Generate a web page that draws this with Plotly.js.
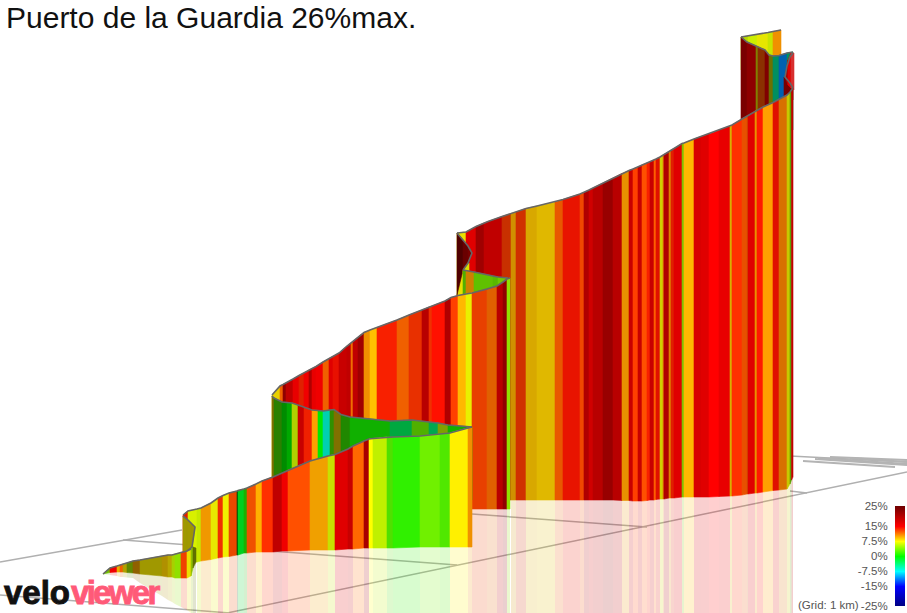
<!DOCTYPE html>
<html><head><meta charset="utf-8">
<script src="https://cdn.plot.ly/plotly-3.0.1.min.js"></script>
<style>
html,body{margin:0;padding:0;background:#fff}
text[data-unformatted="velo"]{letter-spacing:0;stroke:#111;stroke-width:.9px}
text[data-unformatted="viewer"]{letter-spacing:-2.7px;stroke:#ff5a78;stroke-width:.9px}
</style></head><body><div id="chart" style="width:907px;height:613px"></div>
<script>
const chartTitle = "Puerto de la Guardia 26%max.";
// strips of the ribbon, back to front: edge positions, ridge height, foot height, gradient colour
const gX=[741,748,757,768,773,781];
const gTop=[37,36,34.5,32.5,31.5,30];
const gBot=[70,70,70,70,70,70];
const gCol=["#b5d800","#ccee00","#e6e600","#c8e400","#f09000"];

const fX=[741,747,756,758,765,769,773,779,787,793];
const fTop=[37,42,46,47,50,55,56,55.5,53,52];
const fBot=[130,130,130,130,130,130,130,130,130,130];
const fCol=["#7a0000","#8e0000","#808000","#8b3000","#800000","#6b7000","#008f60","#0060b0","#009060"];

const f2X=[784,787,793];
const f2Top=[77,82,88];
const f2Bot=[100,100,100];
const f2Col=["#7a0000","#7a0000"];

const sX=[785,788,791,794];
const sTop=[77,60,53,53];
const sBot=[77,85,88,90];
const sCol=["#b00000","#e00000","#d83030"];

const eX=[457,466,476,484,488,502,511,516,526,537,555,563,580,584,589,593,603,613,622,629,633,638,642,647,650,654,656,660,663,664,669,671,674,682,684,694,701,709,719,730,732,742,747,748,755,757,763,773,779,787,790,791.5,793];
const eTop=[233,232,226.5,223,221.5,216.5,213.5,212,208.5,206,202,199.5,194,192.5,190,188,183,178,173.5,170.5,169,167,165,163,162,160,159,157,155,154.5,151.5,150,148.5,143.5,143,139,136.5,134,130,126,125,119,116,115.5,111,110,107,102.5,99.5,95,92,90,88];
const eBot=[500,500,500,500,500,500,500,500,500,500,500,500,500,500,500,500,500,500,500.5,500.5,501,501,501,500.5,500,500,499.5,499,499,499,498,498,498,497,497,497,497,497,496.5,496,496,495,494,494,493,493,492,490.5,490,489,484,480,477];
const eCol=["#e8e000","#e00000","#a00000","#c00000","#c00000","#c83000","#d09000","#d03000","#d8a800","#e0b800","#e85800","#e81400","#f04800","#b00000","#d00000","#b80000","#980000","#b80000","#e89000","#c80000","#ff4000","#c80000","#ff5000","#f82000","#c80000","#ff6000","#e01000","#d0d000","#e07000","#b00000","#e08000","#e02000","#e00000","#80c000","#ffb800","#d80000","#e00000","#ff0000","#e80000","#d8b000","#ff3000","#e85000","#d05000","#e00000","#e89000","#ff1800","#ffa000","#e01000","#d87000","#c8c800","#60a000","#c00000"];

const hX=[457,463,468,472];
const hTop=[233,240,246,253];
const hBot=[295,270,263,253];
const hCol=["#500000","#6a0000","#7a0000"];

const yX=[463,469];
const yTop=[270,263];
const yBot=[273,273];
const yCol=["#d8e000"];

const dX=[463,466,474,493,498,508];
const dTop=[270,270.5,272,276,277,278];
const dBot=[310,310,310,310,310,310];
const dCol=["#50b000","#d08000","#60c000","#58b800","#70c800"];

const cX=[272,280,283,286,293,299,304,309,312,316,323,329,333,339,347,351,353,358,364,370,377,397,409,422,429,432,445,451,458,466,472,487,497,503,507,510];
const cTop=[395,386,384.5,383,379,375.5,373,370,368.5,366.5,362,358.5,356.5,353,346,343,341.5,337,332.5,330,327.5,320,315,310,307,306,301,297.5,295.5,294,293,289,286,282,279,278];
const cBot=[509,509,509,509,509,509,509,509,509,509,509,509,509,509,509,509,509,509,509,509,509,509,509,509,509,509,509,509,509,509,509,509,509,509,509,509];
const cCol=["#e8d000","#f06000","#900000","#c00000","#e80000","#e02000","#f00000","#b00000","#e80000","#f00000","#f06000","#e00000","#e81000","#c80000","#c00000","#f07000","#c00000","#a00000","#f09000","#ffc000","#f82000","#f06000","#e83000","#b80000","#f03000","#ff1000","#b00000","#ff4000","#ffb800","#e8f000","#e84000","#e06000","#b80000","#900000","#90e000"];

const bX=[272,274,282,287,292,298,304,312,318,323,330,334,341,350,390,412,429,438,448,472];
const bTop=[396,398,402,402.5,403,405,407,410,410.5,411,410,409.5,414.5,417,421,420,422,423,425,427];
const bBot=[500,500,500,500,500,500,500,500,500,500,500,500,500,500,500,500,500,500,500,500];
const bCol=["#807000","#2a8000","#008c00","#00a800","#b0d000","#c80000","#f02000","#ffa000","#00e800","#00d0b0","#309000","#807000","#208800","#10b000","#00a840","#50b000","#00a850","#80a000","#10b000"];

const aX=[183,188,197,201,211,218,223,229,237,238,244,247,256,262,273,282,288,310,328,335,348,353,364,369,373,387,393,420,440,450,468,472];
const aTop=[515,511,509,508,503,498,495.5,493,491,490.5,489,488,484,481,477,473,470,461,456,454.5,449,446,441,439,438.5,437,437,436,434,433,428,427];
const aBot=[563,563,562,561,559.5,558,557,556.5,555,555,553,553,552,552,552,551,551,550,550,550,549,549,548,548,548,548,548,547,547,547,547,547];
const aCol=["#e02000","#d8f000","#c8e800","#f09800","#e8e800","#f03000","#f0f000","#e84800","#004000","#00d020","#20b000","#f05000","#ffb000","#ff3000","#c00000","#f00000","#ff5000","#f0a000","#c8e000","#e00000","#c80000","#ff6800","#a80000","#ffff00","#c0f000","#50e000","#30f000","#70f000","#50e800","#fff000","#f09000"];

const oX=[183,187,192,195];
const oTop=[516,519,524,527];
const oBot=[552,551,547,527];
const oCol=["#a09800","#a09800","#a09800"];

const lX=[103,110,117,120,123,127,133,140,162,168,172,175,181,187,191,193,196];
const lTop=[574,568,566,565,564,563,561,560,556,555,555,554,552.5,551,549,547,548];
const lBot=[574,572.5,572,572,572,572.5,573,574,576,577,577,578,578,578,576,568,562];
const lRefl=[574,575,576,577,577,577.5,578,583,596,600,602,604,607,610,613,613,613];
const lCol=["#70c000","#f00000","#e8b000","#f06000","#b0a000","#608800","#906000","#a09800","#b09000","#b8a800","#a8d000","#90e000","#f04000","#e8e000","#90c000","#607000"];

// floor grid lines
const gridLines=[
 [[0,182],[562,530]],
 [[123,457],[540,565]],
 [[227,907],[613,472]],
 [[472,647],[514,527]],
 [[0,230],[595,613]],
 [[790,807],[491,493]],
 [[790,907],[456,462]]
];
const gridCluster=[
 [[803,895],[461,467]],
 [[818,907],[458,464]],
 [[830,907],[457,460]],
 [[850,907],[458,462]],
 [[815,907],[459,465]]
];
// fold outlines
const foldX=[793,790,787,785,790,793];
const foldY=[53,57,66,77,83,88];
const hookX=[457,463,468,472,468,463];
const hookY=[233,240,246,253,263,270];

// gradient legend
const legendLevels=[-25,-22.5,-20,-17.5,-15,-12.5,-10,-7.5,-5,-2.5,0,2.5,5,7.5,10,12.5,15,17.5,20,22.5,25];
const legendTicks=[25,15,7.5,0,-7.5,-15,-25];
const legendLabels=["25%","15%","7.5%","0%","-7.5%","-15%","-25%"];
const legendStops=[[0,"#000080"],[0.2,"#0000ff"],[0.35,"#00ffff"],[0.5,"#00ff00"],[0.65,"#ffff00"],[0.8,"#ff0000"],[1,"#700000"]];

const W=907,H=613,traces=[];
const base={mode:"lines",hoverinfo:"skip",showlegend:false};
function strips(x,top,bot,col,alpha){
  for(let i=0;i<col.length;i++){
    traces.push(Object.assign({},base,{
      x:[x[i],x[i+1],x[i+1],x[i],x[i]],
      y:[top[i],top[i+1],bot[i+1],bot[i],top[i]],
      fill:"toself",fillcolor:col[i],
      opacity:alpha||1,
      line:{color:col[i],width:alpha?0:0.6}
    }));
  }
}
function reflect(x,from,to,col,start){
  strips(x.slice(start),from.slice(start),to.slice(start),col.slice(start),0.19);
}
function ridge(x,y,w){
  traces.push(Object.assign({},base,{x:x,y:y,line:{color:"#666666",width:w||1.6}}));
}
gridLines.forEach(g=>traces.push(Object.assign({},base,{x:g[0],y:g[1],line:{color:"#b0b0b0",width:1.5}})));
gridCluster.forEach(g=>traces.push(Object.assign({},base,{x:g[0],y:g[1],line:{color:"#b4b4b4",width:2.2}})));

const floorLine=x=>x.map(()=>H);
reflect(lX,lBot,lRefl,lCol,0);
reflect(aX,aBot,floorLine(aX),aCol,2);
reflect(cX,cBot,floorLine(cX),cCol,30);
reflect(eX,eBot,floorLine(eX),eCol,6);

strips(gX,gTop,gBot,gCol);
strips(fX,fTop,fBot,fCol);
strips(f2X,f2Top,f2Bot,f2Col);
strips(sX,sTop,sBot,sCol);
strips(eX,eTop,eBot,eCol);
strips(hX,hTop,hBot,hCol);
strips(yX,yTop,yBot,yCol);
strips(dX,dTop,dBot,dCol);
strips(cX,cTop,cBot,cCol);
strips(bX,bTop,bBot,bCol);
strips(aX,aTop,aBot,aCol);
strips(oX,oTop,oBot,oCol);
strips(lX,lTop,lBot,lCol);

ridge(gX,gTop);ridge(fX,fTop);ridge(foldX,foldY);ridge(eX,eTop);
ridge(hookX,hookY);ridge(dX,dTop);ridge(cX,cTop);ridge(bX,bTop);ridge(aX,aTop);
ridge(oX.concat([192,187]),oTop.concat([547,551]));ridge(lX.slice(0,15),lTop.slice(0,15));

traces.push({type:"heatmap",xaxis:"x2",yaxis:"y2",x:[0,1],y:legendLevels,
  z:legendLevels.map(v=>[v,v]),zmin:-25,zmax:25,zsmooth:"best",colorscale:legendStops,showscale:false,hoverinfo:"skip"});

const layout={
  width:W,height:H,margin:{l:0,r:0,t:0,b:0},paper_bgcolor:"#fff",plot_bgcolor:"rgba(0,0,0,0)",
  font:{family:"Liberation Sans, Arial, sans-serif"},showlegend:false,
  title:{text:chartTitle,x:6/W,xanchor:"left",xref:"paper",y:1-17/H,yanchor:"middle",yref:"container",font:{size:30,color:"#111",family:"Liberation Sans, Arial, sans-serif"},pad:{l:0,r:0,t:0,b:0}},
  xaxis:{range:[0,W],visible:false,fixedrange:true},
  yaxis:{range:[H,0],visible:false,fixedrange:true},
  xaxis2:{domain:[895/W,905/W],range:[0,1],visible:false,anchor:"y2",fixedrange:true},
  yaxis2:{domain:[7/H,107/H],range:[-25,25],anchor:"x2",side:"left",tickmode:"array",tickvals:legendTicks,ticktext:legendLabels,
    tickfont:{size:11.5,color:"#555"},ticks:"outside",ticklen:4,tickcolor:"rgba(0,0,0,0)",showgrid:false,zeroline:false,showline:false,fixedrange:true},
  annotations:[
    {xref:"x",yref:"y",x:861,y:604.5,text:"(Grid: 1 km)",showarrow:false,xanchor:"right",yanchor:"middle",font:{size:11.5,color:"#555"}},
    {xref:"x",yref:"y",x:2,y:613,text:"velo",showarrow:false,xanchor:"left",yanchor:"bottom",font:{size:33,weight:700,color:"#111",family:"Liberation Sans, Arial, sans-serif"}},
    {xref:"x",yref:"y",x:69,y:613,text:"viewer",showarrow:false,xanchor:"left",yanchor:"bottom",font:{size:33,weight:700,color:"#ff5a78",family:"Liberation Sans, Arial, sans-serif"}}
  ]
};
Plotly.newPlot("chart",traces,layout,{displayModeBar:false,staticPlot:true});
</script></body></html>
